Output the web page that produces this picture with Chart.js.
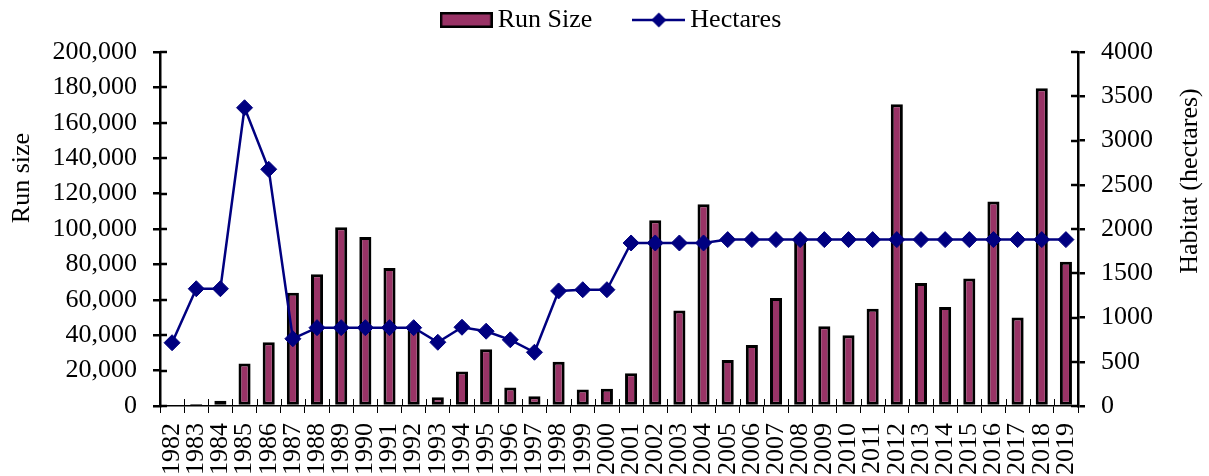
<!DOCTYPE html>
<html>
<head>
<meta charset="utf-8">
<script src="https://cdn.jsdelivr.net/npm/chart.js@4/dist/chart.umd.min.js"></script>
<style>
  html, body { margin: 0; padding: 0; background: #fff; }
  #wrap { width: 1209px; height: 476px; }
</style>
</head>
<body>
<div id="wrap"><canvas id="c" width="1209" height="476"></canvas></div>
<script>
// ---- Data ----
const years = ['1982','1983','1984','1985','1986','1987','1988','1989','1990','1991',
  '1992','1993','1994','1995','1996','1997','1998','1999','2000','2001',
  '2002','2003','2004','2005','2006','2007','2008','2009','2010','2011',
  '2012','2013','2014','2015','2016','2017','2018','2019'];

const runSize = [0, 1200, 3000, 24000, 36000, 64000, 74500, 101000, 95500, 78000,
  44500, 5000, 19500, 32000, 10500, 5500, 25000, 9300, 9800, 18500,
  105000, 54000, 114000, 26000, 34500, 61000, 94000, 45000, 40000, 55000,
  170500, 69500, 56000, 72000, 115500, 50000, 179500, 81500];

const hectares = [715, 1325, 1325, 3370, 2675, 760, 885, 885, 885, 885,
  885, 720, 890, 845, 748, 607, 1300, 1314, 1314, 1842,
  1842, 1842, 1842, 1880, 1880, 1880, 1880, 1880, 1880, 1880,
  1880, 1880, 1880, 1880, 1880, 1880, 1880, 1880];

const runSizeTicks = [0, 20000, 40000, 60000, 80000, 100000, 120000, 140000, 160000, 180000, 200000];
const hectareTicks = [0, 500, 1000, 1500, 2000, 2500, 3000, 3500, 4000];

const seriesNames = ['Run Size', 'Hectares'];
const leftTitle = 'Run size';
const rightTitle = 'Habitat (hectares)';

// ---- Styles ----
const BAR_COLOR = '#993366';
const LINE_COLOR = '#000080';
const FONT = '"Liberation Serif", "Times New Roman", serif';

// legend swatches
function barSwatch() {
  const c = document.createElement('canvas');
  c.width = 53; c.height = 16;
  const g = c.getContext('2d');
  g.fillStyle = BAR_COLOR;
  g.fillRect(1, 1, 51, 14);
  g.strokeStyle = '#000';
  g.lineWidth = 2.5;
  g.strokeRect(1.25, 1.25, 50.5, 13.5);
  return c;
}
function lineSwatch() {
  const c = document.createElement('canvas');
  c.width = 53; c.height = 16;
  const g = c.getContext('2d');
  g.strokeStyle = LINE_COLOR;
  g.lineWidth = 2.5;
  g.beginPath(); g.moveTo(0, 8); g.lineTo(53, 8); g.stroke();
  g.fillStyle = LINE_COLOR;
  g.beginPath();
  g.moveTo(26.5 - 7.5, 8); g.lineTo(26.5, 0.5); g.lineTo(26.5 + 7.5, 8); g.lineTo(26.5, 15.5);
  g.closePath(); g.fill();
  return c;
}
const swatches = [barSwatch(), lineSwatch()];

const extras = {
  id: 'extras',
  beforeInit(chart) {
    const lg = chart.legend;
    const fit = lg.fit;
    lg.fit = function () { fit.call(this); this.height = 93; };
  },
  afterDatasetsDraw(chart) {
    const ctx = chart.ctx, ca = chart.chartArea;
    const y = chart.scales.y, y1 = chart.scales.y1, x = chart.scales.x;
    ctx.save();
    ctx.strokeStyle = '#000';
    ctx.lineWidth = 2.5;
    y.ticks.forEach(t => {
      const p = Math.round(y.getPixelForValue(t.value));
      ctx.beginPath(); ctx.moveTo(ca.left, p); ctx.lineTo(ca.left + 7, p); ctx.stroke();
    });
    y1.ticks.forEach(t => {
      const p = Math.round(y1.getPixelForValue(t.value));
      ctx.beginPath(); ctx.moveTo(ca.right, p); ctx.lineTo(ca.right - 7, p); ctx.stroke();
    });
    ctx.lineWidth = 1;
    const n = years.length;
    const step = (x.getPixelForValue(1) - x.getPixelForValue(0));
    for (let i = 0; i <= n; i++) {
      const p = Math.round(x.getPixelForValue(0) - step / 2 + i * step) + 0.5;
      ctx.beginPath(); ctx.moveTo(p, ca.bottom); ctx.lineTo(p, ca.bottom - 7); ctx.stroke();
    }
    ctx.restore();
  },
  afterDraw(chart) {
    const ctx = chart.ctx;
    ctx.save();
    ctx.font = '26px ' + FONT;
    ctx.fillStyle = '#000';
    ctx.textAlign = 'center';
    ctx.textBaseline = 'middle';
    ctx.save(); ctx.translate(22, 178); ctx.rotate(-Math.PI / 2); ctx.fillText(leftTitle, 0, 0); ctx.restore();
    ctx.save(); ctx.translate(1190, 181); ctx.rotate(-Math.PI / 2); ctx.fillText(rightTitle, 0, 0); ctx.restore();
    ctx.restore();
  }
};

new Chart(document.getElementById('c'), {
  type: 'bar',
  data: {
    labels: years,
    datasets: [
      {
        type: 'bar',
        label: seriesNames[0],
        data: runSize,
        yAxisID: 'y',
        backgroundColor: BAR_COLOR,
        borderColor: '#000',
        borderWidth: 3,
        borderSkipped: false,
        barPercentage: 0.5,
        categoryPercentage: 1.0,
        order: 2
      },
      {
        type: 'line',
        label: seriesNames[1],
        data: hectares,
        yAxisID: 'y1',
        borderColor: LINE_COLOR,
        backgroundColor: LINE_COLOR,
        borderWidth: 2.5,
        pointStyle: 'rectRot',
        pointRadius: 8,
        pointBackgroundColor: LINE_COLOR,
        pointBorderColor: LINE_COLOR,
        pointBorderWidth: 1,
        tension: 0,
        fill: false,
        order: 1
      }
    ]
  },
  options: {
    responsive: false,
    animation: false,
    devicePixelRatio: 1,
    events: [],
    layout: { padding: { top: -41, left: 20, right: 0, bottom: 0 } },
    plugins: {
      tooltip: { enabled: false },
      legend: {
        display: true,
        position: 'top',
        labels: {
          usePointStyle: true,
          pointStyleWidth: 37,
          padding: 48,
          color: '#000',
          font: { family: FONT, size: 26 },
          generateLabels: (chart) => chart.data.datasets.map((ds, i) => ({
            text: ds.label,
            pointStyle: swatches[i],
            fillStyle: 'rgba(0,0,0,0)',
            strokeStyle: 'rgba(0,0,0,0)',
            lineWidth: 0,
            hidden: false,
            datasetIndex: i
          }))
        }
      }
    },
    scales: {
      x: {
        offset: true,
        grid: { display: true, drawOnChartArea: false, drawTicks: true, tickLength: 7, offset: true, color: '#000', lineWidth: 1 },
        border: { display: true, color: '#000', width: 1.5 },
        ticks: {
          autoSkip: false, maxRotation: 90, minRotation: 90, padding: 10,
          color: '#000', font: { family: FONT, size: 26 }
        },
        afterFit: (s) => { s.height = 70; }
      },
      y: {
        position: 'left',
        min: 0, max: 200000,
        afterBuildTicks: (s) => { s.ticks = runSizeTicks.map(v => ({ value: v })); },
        grid: { display: true, drawOnChartArea: false, drawTicks: true, tickLength: 7, color: '#000', lineWidth: 2.5 },
        border: { display: true, color: '#000', width: 2.5 },
        ticks: {
          padding: 16, color: '#000', font: { family: FONT, size: 26 },
          callback: (v) => Number(v).toLocaleString('en-US')
        },
        afterFit: (s) => { s.width = 140; }
      },
      y1: {
        position: 'right',
        min: 0, max: 4000,
        afterBuildTicks: (s) => { s.ticks = hectareTicks.map(v => ({ value: v })); },
        grid: { display: true, drawOnChartArea: false, drawTicks: true, tickLength: 7, color: '#000', lineWidth: 2.5 },
        border: { display: true, color: '#000', width: 2.5 },
        ticks: {
          padding: 16, color: '#000', font: { family: FONT, size: 26 },
          callback: (v) => String(v)
        },
        afterFit: (s) => { s.width = 131; }
      }
    }
  },
  plugins: [extras]
});
</script>
</body>
</html>
